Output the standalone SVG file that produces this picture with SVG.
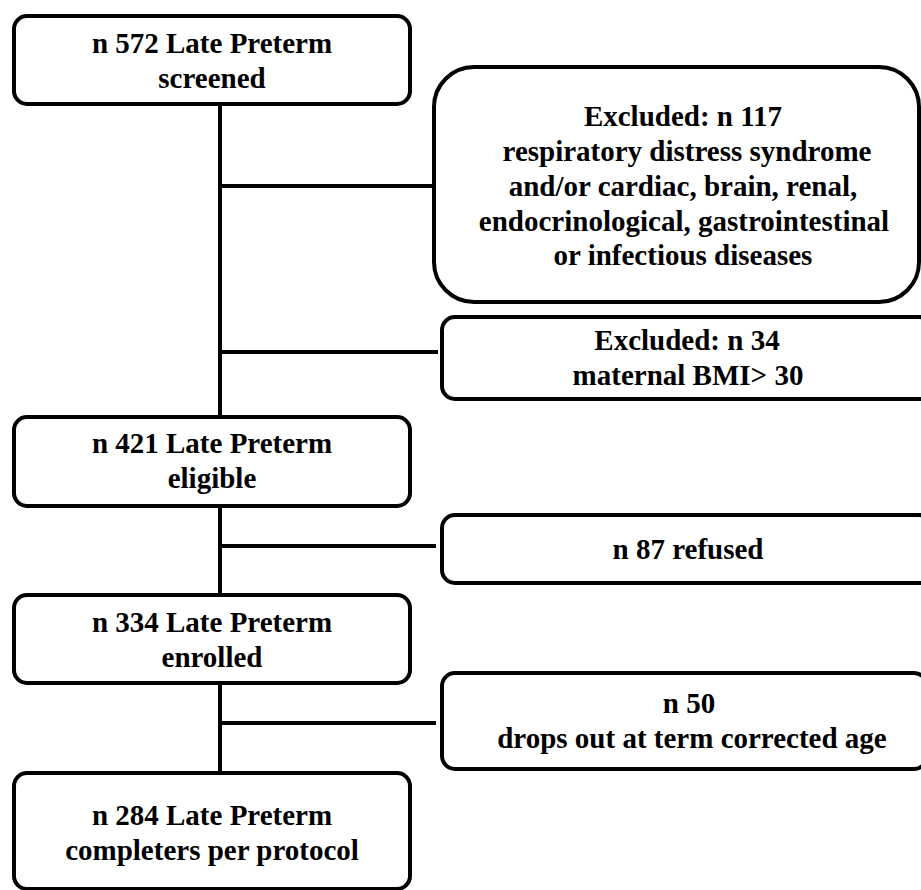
<svg xmlns="http://www.w3.org/2000/svg" width="921" height="890" viewBox="0 0 921 890">
<style>
.box{fill:#fff;stroke:#000;stroke-width:4}
.ln{stroke:#000;stroke-width:4;fill:none}
text{font-family:"Liberation Serif","Times New Roman",serif;font-weight:bold;font-size:29px;fill:#000;text-anchor:middle}
</style>
<rect width="921" height="890" fill="#fff"/>
<g id="connectors">
<line class="ln" x1="220" y1="104" x2="220" y2="417"/>
<line class="ln" x1="220" y1="506" x2="220" y2="595"/>
<line class="ln" x1="220" y1="683" x2="220" y2="773"/>
<line class="ln" x1="220" y1="186" x2="434" y2="186"/>
<line class="ln" x1="220" y1="352" x2="438" y2="352"/>
<line class="ln" x1="220" y1="546" x2="436" y2="546"/>
<line class="ln" x1="220" y1="723" x2="436" y2="723"/>
</g>
<g id="n572">
<rect class="box" x="14" y="16" width="396" height="88" rx="13"/>
<text x="212" y="53">n 572 Late Preterm</text>
<text x="212" y="88">screened</text>
</g>
<g id="excl117">
<rect class="box" x="434" y="67" width="485" height="235" rx="40"/>
<text x="683" y="126">Excluded: n 117</text>
<text x="687" y="161">respiratory distress syndrome</text>
<text x="683" y="196">and/or cardiac, brain, renal,</text>
<text x="684" y="231">endocrinological, gastrointestinal</text>
<text x="683" y="265">or infectious diseases</text>
</g>
<g id="excl34">
<rect class="box" x="442" y="317" width="490" height="82" rx="13"/>
<text x="687" y="350">Excluded: n 34</text>
<text x="688" y="385">maternal BMI&gt; 30</text>
</g>
<g id="n421">
<rect class="box" x="14" y="417" width="396" height="89" rx="13"/>
<text x="212" y="453">n 421 Late Preterm</text>
<text x="212" y="488">eligible</text>
</g>
<g id="refused">
<rect class="box" x="442" y="515" width="490" height="68" rx="13"/>
<text x="688" y="559">n 87 refused</text>
</g>
<g id="n334">
<rect class="box" x="14" y="595" width="396" height="88" rx="13"/>
<text x="212" y="632">n 334 Late Preterm</text>
<text x="212" y="667">enrolled</text>
</g>
<g id="dropout">
<rect class="box" x="442" y="673" width="485" height="96" rx="13"/>
<text x="689" y="713">n 50</text>
<text x="692" y="748">drops out at term corrected age</text>
</g>
<g id="n284">
<rect class="box" x="14" y="773" width="396" height="116" rx="13"/>
<text x="212" y="825">n 284 Late Preterm</text>
<text x="212" y="860">completers per protocol</text>
</g>
</svg>
